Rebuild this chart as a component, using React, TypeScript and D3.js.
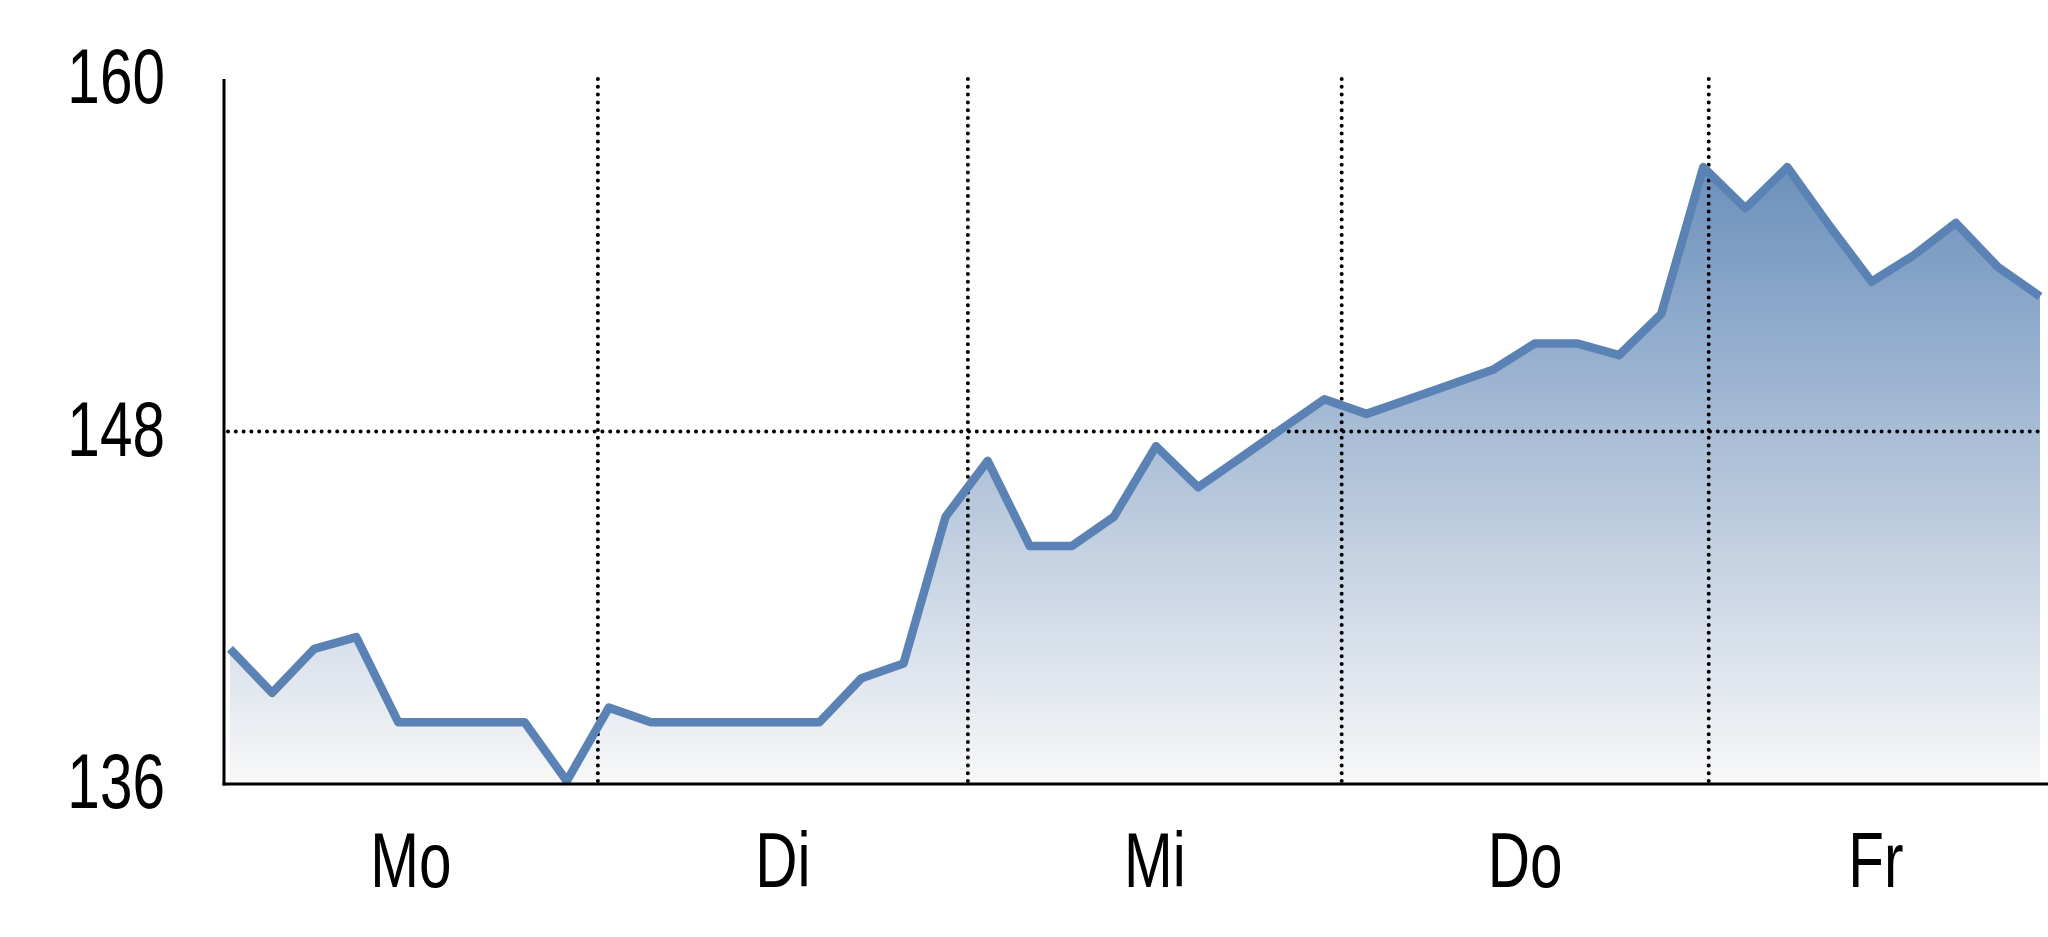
import { useRef, useEffect } from 'react';
import * as d3 from 'd3';

// intraday prices, one value per step (index 0..43)
const prices = [
    140.6, 139.1, 140.6, 141.0, 138.1, 138.1, 138.1, 138.1, 136.1, 138.6,
    138.1, 138.1, 138.1, 138.1, 138.1, 139.6, 140.1, 145.1, 147.0, 144.1,
    144.1, 145.1, 147.5, 146.1, 147.1, 148.1, 149.1, 148.6, 149.1, 149.6,
    150.1, 151.0, 151.0, 150.6, 152.0, 157.0, 155.6, 157.0, 155.0, 153.1,
    154.0, 155.1, 153.6, 152.6
];

const dayLabels = ['Mo', 'Di', 'Mi', 'Do', 'Fr'];
// day boundaries in step units (first = chart start, last = chart end)
const dayBounds = [-0.14, 8.74, 17.53, 26.41, 35.13, 43.07];

const yTicks = [136, 148, 160];
const yGridValues = [148];

const PriceChart = () => {

    const svgRef = useRef<SVGSVGElement | null>(null);

    useEffect(() => {
        const svgElement = svgRef.current;
        if (!svgElement) return;

        const width = 2048;
        const height = 937;
        const axisLeft = 224;

        const svg = d3.select(svgElement);
        svg.selectAll('*').remove();

        const x = d3.scaleLinear()
            .domain([0, prices.length - 1])
            .range([230, 2040]);

        const y = d3.scaleLinear()
            .domain([136, 160])
            .range([784, 79]);

        const font = '"Liberation Sans", Arial, Helvetica, sans-serif';

        const defs = svg.append('defs');
        const grad = defs.append('linearGradient')
            .attr('id', 'areaFill')
            .attr('x1', 0).attr('y1', 0)
            .attr('x2', 0).attr('y2', 1);
        grad.append('stop').attr('offset', '0%').attr('stop-color', '#6c90bc');
        grad.append('stop').attr('offset', '100%').attr('stop-color', '#f8f8f8');

        const area = d3.area<number>()
            .x((_, i) => x(i))
            .y0(y(136))
            .y1(d => y(d));

        const line = d3.line<number>()
            .x((_, i) => x(i))
            .y(d => y(d));

        svg.append('path')
            .datum(prices)
            .attr('fill', 'url(#areaFill)')
            .attr('d', area);

        // dotted grid
        svg.selectAll('.hgrid')
            .data(yGridValues)
            .enter().append('line')
            .attr('x1', axisLeft + 4)
            .attr('x2', x(dayBounds[dayBounds.length - 1]))
            .attr('y1', d => y(d))
            .attr('y2', d => y(d))
            .attr('stroke', '#000')
            .attr('stroke-width', 4)
            .attr('stroke-linecap', 'round')
            .attr('stroke-dasharray', '0,7.8');

        svg.selectAll('.vgrid')
            .data(dayBounds.slice(1, -1))
            .enter().append('line')
            .attr('x1', d => x(d))
            .attr('x2', d => x(d))
            .attr('y1', y(160))
            .attr('y2', y(136))
            .attr('stroke', '#000')
            .attr('stroke-width', 4)
            .attr('stroke-linecap', 'round')
            .attr('stroke-dasharray', '0,7.8');

        svg.append('path')
            .datum(prices)
            .attr('fill', 'none')
            .attr('stroke', '#5a82b4')
            .attr('stroke-width', 8.5)
            .attr('stroke-linejoin', 'round')
            .attr('d', line);

        // axes
        svg.append('line')
            .attr('x1', axisLeft).attr('x2', axisLeft)
            .attr('y1', y(160)).attr('y2', y(136) + 1.5)
            .attr('stroke', '#000')
            .attr('stroke-width', 3);

        svg.append('line')
            .attr('x1', axisLeft - 1.5).attr('x2', width)
            .attr('y1', y(136)).attr('y2', y(136))
            .attr('stroke', '#000')
            .attr('stroke-width', 3);

        // y tick labels (condensed sans)
        svg.selectAll('.ylab')
            .data(yTicks)
            .enter().append('text')
            .attr('transform', d => `translate(165, ${y(d) + 24}) scale(0.76, 1)`)
            .attr('text-anchor', 'end')
            .style('font-family', font)
            .style('font-size', '77px')
            .style('fill', '#000')
            .text(d => d);

        // day labels centred in their bands
        svg.selectAll('.xlab')
            .data(dayLabels)
            .enter().append('text')
            .attr('transform', (_, i) => `translate(${(x(dayBounds[i]) + x(dayBounds[i + 1])) / 2}, 887) scale(0.76, 1)`)
            .attr('text-anchor', 'middle')
            .style('font-family', font)
            .style('font-size', '77px')
            .style('fill', '#000')
            .text(d => d);

        svg.attr('width', width).attr('height', height);
    }, []);

    return (
        <svg
            ref={svgRef}
            width={2048}
            height={937}
            style={{ position: 'absolute', left: 0, top: 0, background: '#fff', display: 'block' }}
        ></svg>
    );
};

export default function App() {
    return <PriceChart />;
}
